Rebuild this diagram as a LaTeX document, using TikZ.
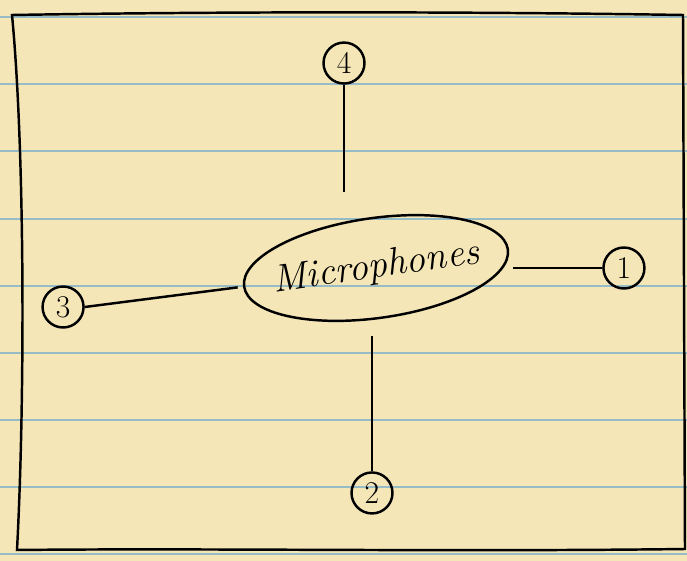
\documentclass[tikz,border=0pt]{standalone}
\usepackage{fontspec}
\usepackage{tikz}
\usetikzlibrary{shapes.geometric}
\pgfdeclarelayer{background}
\pgfsetlayers{background,main}
\definecolor{paper}{RGB}{245,230,184}
\definecolor{ruling}{RGB}{150,188,200}

\begin{document}
\begin{tikzpicture}[x=0.02cm,y=-0.02cm]
 % styles
 \tikzstyle{pen} = [line width=1.4pt];
 \tikzstyle{mic} = [ellipse,pen,draw=black,minimum width=5.2cm,minimum height=2cm,inner xsep=-0.2cm,inner ysep=0pt,rotate=8,font=\fontsize{22}{26}\selectfont\itshape];
 \tikzstyle{num} = [circle,pen,draw=black,minimum size=0.82cm,inner sep=0pt,font=\fontsize{18}{20}\selectfont];

 \useasboundingbox (0,0) rectangle (687,561);

 % nodes
 \node[mic] (mic) at (376,268) {Microphones};
 \node[num,above of=mic,node distance=4.1cm,xshift=-0.64cm] (n4) {4};
 \node[num,right of=mic,node distance=4.96cm] (n1) {1};
 \node[num,left of=mic,node distance=6.26cm,yshift=-0.78cm] (n3) {3};
 \node[num,below of=mic,node distance=4.5cm,xshift=-0.08cm] (n2) {2};

 \begin{pgfonlayer}{background}
 % paper and frame
 \fill[paper] (0,0) rectangle (687,561);
 \foreach \y in {17,84,151,219,286,353,420,487,554}
   \draw[ruling,line width=0.6pt] (0,\y) -- (687,\y);
 \draw[pen] (12,15) .. controls (250,11) and (500,12) .. (683,15) -- (685,549)
       .. controls (450,552) and (200,548) .. (17,550)
       .. controls (25,400) and (25,150) .. cycle;
 \end{pgfonlayer}

 % edges
 \path[pen] (n4.south) edge [shorten >=0.5cm] (n4.south |- mic.north);
 \path[pen] (n2.north) edge [shorten >=0.35cm] (n2.north |- mic.south);
 \path[pen] (n1.west) edge [shorten >=2pt] (n1.west -| mic.east);
 \path[pen] (n3.east) edge [shorten >=3pt] (mic.west);
\end{tikzpicture}
\end{document}
